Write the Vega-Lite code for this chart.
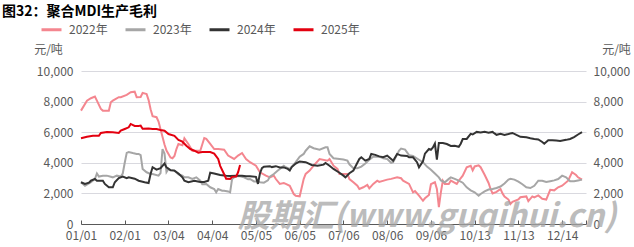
{
  "$schema": "https://vega.github.io/schema/vega-lite/v6.json",
  "width": 505,
  "height": 153,
  "autosize": {"type": "none"},
  "padding": {"left": 81, "top": 71, "right": 48, "bottom": 23},
  "background": "#ffffff",
  "config": {"view": {"stroke": null}, "font": "Noto Sans CJK SC"},
  "title": {"text": "图32：聚合MDI生产毛利", "anchor": "start", "frame": "group", "fontSize": 14, "fontWeight": "bold", "color": "#000000", "dx": -79, "offset": -1},
  "datasets": {
    "series": [
      {"year":"2022年","t":0,"v":7410},{"year":"2022年","t":3,"v":8060},{"year":"2022年","t":5,"v":8220},{"year":"2022年","t":7,"v":8330},{"year":"2022年","t":8,"v":8060},{"year":"2022年","t":10,"v":7520},{"year":"2022年","t":11,"v":7410},{"year":"2022年","t":14,"v":7410},{"year":"2022年","t":15,"v":7960},{"year":"2022年","t":16,"v":8060},{"year":"2022年","t":19,"v":8290},{"year":"2022年","t":20,"v":8290},{"year":"2022年","t":23,"v":8440},{"year":"2022年","t":25,"v":8610},{"year":"2022年","t":27,"v":8650},{"year":"2022年","t":28,"v":8290},{"year":"2022年","t":30,"v":8300},{"year":"2022年","t":31,"v":8570},{"year":"2022年","t":33,"v":8500},{"year":"2022年","t":34,"v":8100},{"year":"2022年","t":35,"v":7500},{"year":"2022年","t":36,"v":7050},{"year":"2022年","t":38,"v":6980},{"year":"2022年","t":39,"v":6700},{"year":"2022年","t":40,"v":6200},{"year":"2022年","t":42,"v":5200},{"year":"2022年","t":43,"v":4800},{"year":"2022年","t":44,"v":4580},{"year":"2022年","t":45,"v":4350},{"year":"2022年","t":46,"v":4300},{"year":"2022年","t":47,"v":4450},{"year":"2022年","t":48,"v":4900},{"year":"2022年","t":49,"v":5230},{"year":"2022年","t":51,"v":5150},{"year":"2022年","t":52,"v":5600},{"year":"2022年","t":54,"v":5230},{"year":"2022年","t":56,"v":4790},{"year":"2022年","t":57,"v":4790},{"year":"2022年","t":60,"v":4790},{"year":"2022年","t":62,"v":5620},{"year":"2022年","t":63,"v":5560},{"year":"2022年","t":65,"v":5230},{"year":"2022年","t":67,"v":4900},{"year":"2022年","t":69,"v":4900},{"year":"2022年","t":72,"v":4860},{"year":"2022年","t":74,"v":4470},{"year":"2022年","t":77,"v":4250},{"year":"2022年","t":79,"v":4470},{"year":"2022年","t":81,"v":4640},{"year":"2022年","t":83,"v":4250},{"year":"2022年","t":85,"v":4040},{"year":"2022年","t":88,"v":3810},{"year":"2022年","t":89,"v":3600},{"year":"2022年","t":90,"v":3380},{"year":"2022年","t":93,"v":3160},{"year":"2022年","t":95,"v":3050},{"year":"2022年","t":97,"v":3160},{"year":"2022年","t":98,"v":2940},{"year":"2022年","t":100,"v":2620},{"year":"2022年","t":102,"v":2680},{"year":"2022年","t":103,"v":2620},{"year":"2022年","t":105,"v":2500},{"year":"2022年","t":107,"v":1960},{"year":"2022年","t":108,"v":1850},{"year":"2022年","t":110,"v":1810},{"year":"2022年","t":112,"v":2940},{"year":"2022年","t":113,"v":3270},{"year":"2022年","t":115,"v":3490},{"year":"2022年","t":117,"v":3810},{"year":"2022年","t":120,"v":4250},{"year":"2022年","t":124,"v":4140},{"year":"2022年","t":125,"v":4250},{"year":"2022年","t":127,"v":3810},{"year":"2022年","t":129,"v":3600},{"year":"2022年","t":130,"v":3270},{"year":"2022年","t":134,"v":3270},{"year":"2022年","t":135,"v":2940},{"year":"2022年","t":137,"v":2730},{"year":"2022年","t":139,"v":2500},{"year":"2022年","t":140,"v":2290},{"year":"2022年","t":142,"v":2400},{"year":"2022年","t":144,"v":2550},{"year":"2022年","t":145,"v":2330},{"year":"2022年","t":147,"v":2620},{"year":"2022年","t":149,"v":2830},{"year":"2022年","t":150,"v":2750},{"year":"2022年","t":154,"v":2900},{"year":"2022年","t":156,"v":2950},{"year":"2022年","t":159,"v":3050},{"year":"2022年","t":161,"v":2990},{"year":"2022年","t":162,"v":2830},{"year":"2022年","t":165,"v":2620},{"year":"2022年","t":167,"v":2070},{"year":"2022年","t":168,"v":2150},{"year":"2022年","t":170,"v":1850},{"year":"2022年","t":172,"v":1520},{"year":"2022年","t":173,"v":1680},{"year":"2022年","t":175,"v":1900},{"year":"2022年","t":176,"v":2600},{"year":"2022年","t":178,"v":2730},{"year":"2022年","t":179,"v":2290},{"year":"2022年","t":180,"v":1100},{"year":"2022年","t":181,"v":2070},{"year":"2022年","t":182,"v":2830},{"year":"2022年","t":183,"v":2620},{"year":"2022年","t":185,"v":2620},{"year":"2022年","t":186,"v":2830},{"year":"2022年","t":189,"v":2620},{"year":"2022年","t":190,"v":2830},{"year":"2022年","t":192,"v":3160},{"year":"2022年","t":194,"v":3710},{"year":"2022年","t":196,"v":3810},{"year":"2022年","t":197,"v":3500},{"year":"2022年","t":198,"v":3760},{"year":"2022年","t":200,"v":3830},{"year":"2022年","t":201,"v":3710},{"year":"2022年","t":203,"v":3220},{"year":"2022年","t":205,"v":2680},{"year":"2022年","t":206,"v":2290},{"year":"2022年","t":207,"v":2000},{"year":"2022年","t":209,"v":2100},{"year":"2022年","t":211,"v":2290},{"year":"2022年","t":212,"v":2000},{"year":"2022年","t":213,"v":1800},{"year":"2022年","t":215,"v":1600},{"year":"2022年","t":216,"v":1310},{"year":"2022年","t":217,"v":1450},{"year":"2022年","t":220,"v":1600},{"year":"2022年","t":221,"v":1750},{"year":"2022年","t":224,"v":1800},{"year":"2022年","t":225,"v":1500},{"year":"2022年","t":227,"v":1800},{"year":"2022年","t":228,"v":1740},{"year":"2022年","t":230,"v":1870},{"year":"2022年","t":232,"v":1650},{"year":"2022年","t":234,"v":1600},{"year":"2022年","t":236,"v":2230},{"year":"2022年","t":238,"v":2200},{"year":"2022年","t":240,"v":2400},{"year":"2022年","t":242,"v":2500},{"year":"2022年","t":245,"v":2830},{"year":"2022年","t":247,"v":3380},{"year":"2022年","t":249,"v":3200},{"year":"2022年","t":250,"v":3050},{"year":"2022年","t":252,"v":2900},
      {"year":"2023年","t":0,"v":2730},{"year":"2023年","t":2,"v":2500},{"year":"2023年","t":4,"v":2650},{"year":"2023年","t":5,"v":2730},{"year":"2023年","t":7,"v":2940},{"year":"2023年","t":8,"v":3300},{"year":"2023年","t":9,"v":3100},{"year":"2023年","t":11,"v":3160},{"year":"2023年","t":13,"v":3160},{"year":"2023年","t":16,"v":3050},{"year":"2023年","t":18,"v":3160},{"year":"2023年","t":20,"v":3100},{"year":"2023年","t":21,"v":3300},{"year":"2023年","t":22,"v":4000},{"year":"2023年","t":23,"v":4650},{"year":"2023年","t":24,"v":4710},{"year":"2023年","t":26,"v":4640},{"year":"2023年","t":28,"v":4580},{"year":"2023年","t":29,"v":4580},{"year":"2023年","t":30,"v":4500},{"year":"2023年","t":31,"v":3600},{"year":"2023年","t":33,"v":3380},{"year":"2023年","t":35,"v":3270},{"year":"2023年","t":36,"v":3270},{"year":"2023年","t":39,"v":3160},{"year":"2023年","t":40,"v":3330},{"year":"2023年","t":41,"v":4900},{"year":"2023年","t":42,"v":4600},{"year":"2023年","t":43,"v":3400},{"year":"2023年","t":44,"v":3600},{"year":"2023年","t":45,"v":3490},{"year":"2023年","t":47,"v":3490},{"year":"2023年","t":49,"v":3250},{"year":"2023年","t":51,"v":3160},{"year":"2023年","t":52,"v":3050},{"year":"2023年","t":54,"v":3050},{"year":"2023年","t":56,"v":2940},{"year":"2023年","t":58,"v":3050},{"year":"2023年","t":60,"v":2830},{"year":"2023年","t":61,"v":2600},{"year":"2023年","t":63,"v":2620},{"year":"2023年","t":65,"v":2400},{"year":"2023年","t":67,"v":2290},{"year":"2023年","t":68,"v":2070},{"year":"2023年","t":69,"v":2290},{"year":"2023年","t":71,"v":2180},{"year":"2023年","t":72,"v":2180},{"year":"2023年","t":74,"v":2130},{"year":"2023年","t":75,"v":2070},{"year":"2023年","t":76,"v":2950},{"year":"2023年","t":77,"v":3050},{"year":"2023年","t":78,"v":3120},{"year":"2023年","t":80,"v":3120},{"year":"2023年","t":82,"v":3050},{"year":"2023年","t":84,"v":2920},{"year":"2023年","t":85,"v":2940},{"year":"2023年","t":87,"v":2780},{"year":"2023年","t":89,"v":2780},{"year":"2023年","t":90,"v":2730},{"year":"2023年","t":92,"v":2700},{"year":"2023年","t":94,"v":2850},{"year":"2023年","t":95,"v":3100},{"year":"2023年","t":97,"v":3270},{"year":"2023年","t":99,"v":3490},{"year":"2023年","t":100,"v":3600},{"year":"2023年","t":102,"v":3810},{"year":"2023年","t":103,"v":3710},{"year":"2023年","t":105,"v":3600},{"year":"2023年","t":107,"v":3900},{"year":"2023年","t":108,"v":4040},{"year":"2023年","t":110,"v":4400},{"year":"2023年","t":112,"v":4580},{"year":"2023年","t":113,"v":4790},{"year":"2023年","t":115,"v":5080},{"year":"2023年","t":117,"v":4950},{"year":"2023年","t":120,"v":4850},{"year":"2023年","t":123,"v":5010},{"year":"2023年","t":124,"v":5010},{"year":"2023年","t":125,"v":4580},{"year":"2023年","t":127,"v":4300},{"year":"2023年","t":130,"v":4250},{"year":"2023年","t":132,"v":4210},{"year":"2023年","t":134,"v":4140},{"year":"2023年","t":135,"v":3900},{"year":"2023年","t":137,"v":3650},{"year":"2023年","t":139,"v":3650},{"year":"2023年","t":141,"v":3750},{"year":"2023年","t":143,"v":3950},{"year":"2023年","t":145,"v":4200},{"year":"2023年","t":147,"v":4400},{"year":"2023年","t":150,"v":4400},{"year":"2023年","t":152,"v":4300},{"year":"2023年","t":154,"v":4250},{"year":"2023年","t":156,"v":4000},{"year":"2023年","t":157,"v":4040},{"year":"2023年","t":160,"v":4800},{"year":"2023年","t":161,"v":4930},{"year":"2023年","t":163,"v":4860},{"year":"2023年","t":165,"v":4500},{"year":"2023年","t":167,"v":4450},{"year":"2023年","t":170,"v":4200},{"year":"2023年","t":172,"v":4040},{"year":"2023年","t":174,"v":3750},{"year":"2023年","t":176,"v":3550},{"year":"2023年","t":178,"v":3300},{"year":"2023年","t":180,"v":3050},{"year":"2023年","t":181,"v":2850},{"year":"2023年","t":183,"v":2730},{"year":"2023年","t":185,"v":2950},{"year":"2023年","t":186,"v":3050},{"year":"2023年","t":188,"v":2950},{"year":"2023年","t":190,"v":2830},{"year":"2023年","t":192,"v":2700},{"year":"2023年","t":194,"v":2400},{"year":"2023年","t":196,"v":2200},{"year":"2023年","t":198,"v":2070},{"year":"2023年","t":200,"v":1850},{"year":"2023年","t":201,"v":1960},{"year":"2023年","t":203,"v":2130},{"year":"2023年","t":205,"v":2250},{"year":"2023年","t":207,"v":2290},{"year":"2023年","t":209,"v":2350},{"year":"2023年","t":211,"v":2450},{"year":"2023年","t":213,"v":2650},{"year":"2023年","t":215,"v":2900},{"year":"2023年","t":216,"v":2950},{"year":"2023年","t":218,"v":2900},{"year":"2023年","t":220,"v":2770},{"year":"2023年","t":222,"v":2600},{"year":"2023年","t":224,"v":2400},{"year":"2023年","t":226,"v":2350},{"year":"2023年","t":228,"v":2500},{"year":"2023年","t":230,"v":2830},{"year":"2023年","t":232,"v":2830},{"year":"2023年","t":234,"v":2750},{"year":"2023年","t":236,"v":2800},{"year":"2023年","t":238,"v":2850},{"year":"2023年","t":240,"v":2940},{"year":"2023年","t":242,"v":3160},{"year":"2023年","t":244,"v":3050},{"year":"2023年","t":246,"v":2800},{"year":"2023年","t":248,"v":2800},{"year":"2023年","t":250,"v":2850},{"year":"2023年","t":252,"v":2900},
      {"year":"2024年","t":0,"v":2730},{"year":"2024年","t":2,"v":2620},{"year":"2024年","t":4,"v":2700},{"year":"2024年","t":5,"v":2830},{"year":"2024年","t":7,"v":2940},{"year":"2024年","t":8,"v":2830},{"year":"2024年","t":11,"v":2830},{"year":"2024年","t":12,"v":2620},{"year":"2024年","t":14,"v":2400},{"year":"2024年","t":16,"v":2400},{"year":"2024年","t":17,"v":2730},{"year":"2024年","t":19,"v":3000},{"year":"2024年","t":21,"v":3100},{"year":"2024年","t":23,"v":2990},{"year":"2024年","t":24,"v":3050},{"year":"2024年","t":27,"v":2960},{"year":"2024年","t":29,"v":2830},{"year":"2024年","t":32,"v":2730},{"year":"2024年","t":34,"v":2680},{"year":"2024年","t":35,"v":3270},{"year":"2024年","t":36,"v":3710},{"year":"2024年","t":38,"v":3550},{"year":"2024年","t":40,"v":3650},{"year":"2024年","t":42,"v":3950},{"year":"2024年","t":43,"v":3700},{"year":"2024年","t":45,"v":3520},{"year":"2024年","t":47,"v":3490},{"year":"2024年","t":49,"v":3300},{"year":"2024年","t":51,"v":3050},{"year":"2024年","t":52,"v":2830},{"year":"2024年","t":54,"v":2730},{"year":"2024年","t":57,"v":2830},{"year":"2024年","t":60,"v":2750},{"year":"2024年","t":62,"v":2750},{"year":"2024年","t":64,"v":2830},{"year":"2024年","t":65,"v":3350},{"year":"2024年","t":67,"v":3300},{"year":"2024年","t":70,"v":3200},{"year":"2024年","t":73,"v":3150},{"year":"2024年","t":75,"v":3130},{"year":"2024年","t":78,"v":3160},{"year":"2024年","t":81,"v":3160},{"year":"2024年","t":83,"v":3120},{"year":"2024年","t":85,"v":3120},{"year":"2024年","t":88,"v":3080},{"year":"2024年","t":89,"v":2620},{"year":"2024年","t":90,"v":3300},{"year":"2024年","t":91,"v":3650},{"year":"2024年","t":92,"v":3740},{"year":"2024年","t":95,"v":3780},{"year":"2024年","t":96,"v":3720},{"year":"2024年","t":98,"v":3780},{"year":"2024年","t":100,"v":3700},{"year":"2024年","t":102,"v":3700},{"year":"2024年","t":104,"v":3600},{"year":"2024年","t":105,"v":3500},{"year":"2024年","t":106,"v":3720},{"year":"2024年","t":108,"v":3950},{"year":"2024年","t":110,"v":4090},{"year":"2024年","t":113,"v":4040},{"year":"2024年","t":116,"v":3860},{"year":"2024年","t":119,"v":3810},{"year":"2024年","t":122,"v":3880},{"year":"2024年","t":123,"v":3990},{"year":"2024年","t":125,"v":3810},{"year":"2024年","t":127,"v":3600},{"year":"2024年","t":130,"v":3350},{"year":"2024年","t":132,"v":3160},{"year":"2024年","t":133,"v":3050},{"year":"2024年","t":135,"v":3320},{"year":"2024年","t":137,"v":3500},{"year":"2024年","t":139,"v":4000},{"year":"2024年","t":140,"v":4250},{"year":"2024年","t":141,"v":4360},{"year":"2024年","t":143,"v":4140},{"year":"2024年","t":145,"v":4250},{"year":"2024年","t":146,"v":4580},{"year":"2024年","t":148,"v":4520},{"year":"2024年","t":150,"v":4420},{"year":"2024年","t":152,"v":4360},{"year":"2024年","t":154,"v":4470},{"year":"2024年","t":156,"v":4250},{"year":"2024年","t":157,"v":4140},{"year":"2024年","t":159,"v":4580},{"year":"2024年","t":161,"v":4470},{"year":"2024年","t":164,"v":4450},{"year":"2024年","t":165,"v":4360},{"year":"2024年","t":167,"v":4360},{"year":"2024年","t":169,"v":4040},{"year":"2024年","t":170,"v":3710},{"year":"2024年","t":172,"v":4100},{"year":"2024年","t":173,"v":4600},{"year":"2024年","t":175,"v":4900},{"year":"2024年","t":176,"v":4850},{"year":"2024年","t":177,"v":5000},{"year":"2024年","t":178,"v":5250},{"year":"2024年","t":179,"v":4200},{"year":"2024年","t":180,"v":5300},{"year":"2024年","t":182,"v":5300},{"year":"2024年","t":184,"v":5230},{"year":"2024年","t":186,"v":5100},{"year":"2024年","t":188,"v":5120},{"year":"2024年","t":190,"v":5050},{"year":"2024年","t":191,"v":5250},{"year":"2024年","t":192,"v":5550},{"year":"2024年","t":194,"v":5560},{"year":"2024年","t":196,"v":5890},{"year":"2024年","t":197,"v":5850},{"year":"2024年","t":199,"v":6020},{"year":"2024年","t":201,"v":5980},{"year":"2024年","t":203,"v":6030},{"year":"2024年","t":205,"v":5970},{"year":"2024年","t":207,"v":6020},{"year":"2024年","t":208,"v":5920},{"year":"2024年","t":209,"v":5830},{"year":"2024年","t":211,"v":5900},{"year":"2024年","t":213,"v":5820},{"year":"2024年","t":215,"v":5880},{"year":"2024年","t":217,"v":5950},{"year":"2024年","t":219,"v":5820},{"year":"2024年","t":221,"v":5700},{"year":"2024年","t":224,"v":5670},{"year":"2024年","t":226,"v":5600},{"year":"2024年","t":228,"v":5560},{"year":"2024年","t":230,"v":5530},{"year":"2024年","t":232,"v":5360},{"year":"2024年","t":233,"v":5250},{"year":"2024年","t":235,"v":5480},{"year":"2024年","t":237,"v":5480},{"year":"2024年","t":239,"v":5450},{"year":"2024年","t":241,"v":5420},{"year":"2024年","t":244,"v":5500},{"year":"2024年","t":246,"v":5560},{"year":"2024年","t":248,"v":5680},{"year":"2024年","t":250,"v":5850},{"year":"2024年","t":252,"v":6000},
      {"year":"2025年","t":0,"v":5600},{"year":"2025年","t":3,"v":5700},{"year":"2025年","t":6,"v":5760},{"year":"2025年","t":9,"v":5760},{"year":"2025年","t":10,"v":5950},{"year":"2025年","t":13,"v":6020},{"year":"2025年","t":16,"v":6000},{"year":"2025年","t":19,"v":5950},{"year":"2025年","t":20,"v":6100},{"year":"2025年","t":22,"v":6210},{"year":"2025年","t":24,"v":6320},{"year":"2025年","t":25,"v":6540},{"year":"2025年","t":27,"v":6410},{"year":"2025年","t":29,"v":6410},{"year":"2025年","t":30,"v":6430},{"year":"2025年","t":31,"v":6230},{"year":"2025年","t":34,"v":6240},{"year":"2025年","t":36,"v":6210},{"year":"2025年","t":38,"v":6210},{"year":"2025年","t":40,"v":6150},{"year":"2025年","t":42,"v":6100},{"year":"2025年","t":44,"v":5880},{"year":"2025年","t":47,"v":5760},{"year":"2025年","t":49,"v":5500},{"year":"2025年","t":51,"v":5380},{"year":"2025年","t":53,"v":5120},{"year":"2025年","t":55,"v":4900},{"year":"2025年","t":57,"v":4790},{"year":"2025年","t":59,"v":4660},{"year":"2025年","t":61,"v":4700},{"year":"2025年","t":64,"v":4700},{"year":"2025年","t":65,"v":4700},{"year":"2025年","t":67,"v":4600},{"year":"2025年","t":69,"v":4250},{"year":"2025年","t":70,"v":3800},{"year":"2025年","t":72,"v":3250},{"year":"2025年","t":73,"v":2960},{"year":"2025年","t":75,"v":2950},{"year":"2025年","t":76,"v":3080},{"year":"2025年","t":78,"v":3100},{"year":"2025年","t":79,"v":3380},{"year":"2025年","t":80,"v":3860}
    ],
    "stamp": [{"label": "股期汇(www.guqihui.cn)"}]
  },
  "layer": [
    {
      "data": {"name": "series"},
      "mark": {"type": "line", "strokeWidth": 2, "interpolate": "linear"},
      "encoding": {
        "x": {"field": "t", "type": "quantitative", "scale": {"domain": [0, 254], "nice": false, "zero": false},
          "axis": {"values": [0, 22, 44, 66, 88, 110, 132, 154, 176, 198, 220, 242, 254], "labelExpr": "['01/01','02/01','03/04','04/04','05/05','06/05','07/06','08/06','09/06','10/13','11/13','12/14',''][round(datum.value/22)]", "title": null, "grid": false, "domainColor": "#595959", "domainWidth": 1, "tickColor": "#595959", "tickSize": -4, "labelPadding": 10, "labelFontSize": 12, "labelColor": "#595959", "labelFlush": false, "labelOverlap": false}},
        "y": {"field": "v", "type": "quantitative", "scale": {"domain": [0, 10000], "nice": false},
          "axis": {"orient": "left", "values": [0, 2000, 4000, 6000, 8000, 10000], "format": ",.0f", "domain": false, "ticks": false, "tickSize": 0, "labelPadding": 8, "labelFontSize": 12, "labelColor": "#595959", "gridColor": "#D9D9DF", "gridWidth": 1, "title": "元/吨", "titleAngle": 0, "titleX": -33, "titleY": -22, "titleAlign": "center", "titleBaseline": "middle", "titleFontWeight": "normal", "titleFontSize": 12, "titleColor": "#595959"}},
        "color": {"field": "year", "type": "nominal", "scale": {"domain": ["2022年", "2023年", "2024年", "2025年"], "range": ["#F4868F", "#A6A6A6", "#333333", "#E3000F"]},
          "legend": {"title": null, "orient": "none", "legendX": -41, "legendY": -53, "direction": "horizontal", "symbolType": "stroke", "symbolStrokeWidth": 3, "symbolSize": 400, "labelFontSize": 12, "labelColor": "#595959", "labelOffset": 6, "columnPadding": 11}}
      }
    },
    {
      "data": {"name": "stamp"},
      "mark": {"type": "text", "fontSize": 32, "fontWeight": "bold", "fontStyle": "italic", "color": "#A6A6A6", "opacity": 0.75, "align": "center", "baseline": "middle", "clip": false},
      "encoding": {
        "text": {"field": "label"},
        "x": {"datum": 174, "type": "quantitative"},
        "y": {"datum": 480, "type": "quantitative",
          "axis": {"orient": "right", "values": [0, 2000, 4000, 6000, 8000, 10000], "format": ",.0f", "domain": false, "ticks": false, "tickSize": 0, "grid": false, "labelPadding": 7, "labelFontSize": 12, "labelColor": "#595959", "title": "元/吨", "titleAngle": 0, "titleX": 30, "titleY": -22, "titleAlign": "center", "titleBaseline": "middle", "titleFontWeight": "normal", "titleFontSize": 12, "titleColor": "#595959"}}
      }
    }
  ],
  "resolve": {"scale": {"y": "shared"}, "axis": {"y": "independent"}}
}
